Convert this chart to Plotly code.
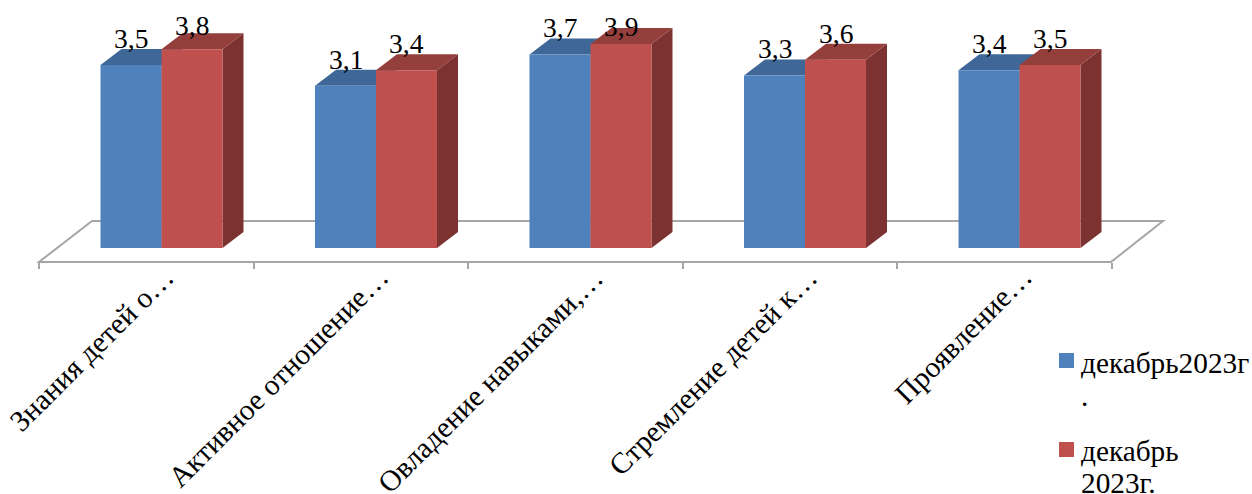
import plotly.graph_objects as go

categories = ["Знания детей о…", "Активное отношение…", "Овладение навыками,…", "Стремление детей к…", "Проявление…"]
series_a_lines = ["декабрь2023г", "."]
series_b_lines = ["декабрь", "2023г."]
series_a = [3.5, 3.1, 3.7, 3.3, 3.4]
series_b = [3.8, 3.4, 3.9, 3.6, 3.5]

W, H = 1252, 494
PX_X = 214.5      # px per category
PX_Y = 52.3       # px per value unit
X0_PX, Y0_PX = 161.5, 248
FONT = "Liberation Serif"
FS_CAT = 29.5
FS_VAL = 27.5
FS_LEG = 29.3
VAL_TOP_LIMIT = 3.75   # taller bars have their value labels pulled down towards the bar
BAR_W = 61 / PX_X
DX, DY = 21 / PX_X, 16 / PX_Y
BLUE, RED = "#4F81BD", "#C0504D"
BLUE_TOP, RED_TOP = "#3F6797", "#953F3C"
BLUE_SIDE, RED_SIDE = "#385D8A", "#7C3230"
GRID = "#A6A6A6"


def px_x(p):
    return (p - X0_PX) / PX_X


def px_y(p):
    return (Y0_PX - p) / PX_Y


def path(points):
    return "M " + " L ".join(f"{x:.5f},{y:.5f}" for x, y in points) + " Z"


fig = go.Figure()
for name, vals, col in [(" ".join(series_a_lines), series_a, BLUE), (" ".join(series_b_lines), series_b, RED)]:
    fig.add_trace(go.Bar(x=list(range(len(categories))), y=vals, name=name, marker=dict(color=col, line=dict(width=0)),
                         hoverinfo="skip", showlegend=False))

shapes = [dict(type="path", xref="x", yref="y", layer="below", fillcolor="white",
               line=dict(color=GRID, width=2),
               path=path([(px_x(39), px_y(262)), (px_x(1111), px_y(262)), (px_x(1163), px_y(221)), (px_x(92), px_y(221))]))]
annotations = []
for i in range(len(categories)):
    for vals, off, top, side in [(series_a, -1, BLUE_TOP, BLUE_SIDE), (series_b, 0, RED_TOP, RED_SIDE)]:
        v = vals[i]
        l = i + off * BAR_W
        r = l + BAR_W
        shapes.append(dict(type="path", xref="x", yref="y", layer="below", fillcolor=side, line=dict(width=0),
                           path=path([(r, 0), (r + DX, DY), (r + DX, v + DY), (r, v)])))
        shapes.append(dict(type="path", xref="x", yref="y", layer="below", fillcolor=top, line=dict(width=0),
                           path=path([(l, v), (l + DX, v + DY), (r + DX, v + DY), (r, v)])))
        ysh = 9 - max(0, v - VAL_TOP_LIMIT) * 60
        annotations.append(dict(x=(l + r) / 2, y=v, xref="x", yref="y", text=f"{v:.1f}".replace(".", ","),
                                showarrow=False, yanchor="bottom", xanchor="center", yshift=ysh,
                                font=dict(family=FONT, size=FS_VAL, color="black")))
    annotations.append(dict(x=i + px_x(146.5 + 36.5) - px_x(161.5), y=(H - 258) / H, xref="x", yref="paper",
                            text=categories[i], showarrow=False, textangle=-45, xanchor="right", yanchor="top",
                            font=dict(family=FONT, size=FS_CAT, color="black")))

# legend: swatch plus one text row per line
for lines, col, swatch_top, baselines in [(series_a_lines, BLUE, 353, (372, 405)), (series_b_lines, RED, 442, (460, 492))]:
    shapes.append(dict(type="rect", xref="paper", yref="paper", x0=1059 / W, x1=1074 / W,
                       y0=(H - swatch_top - 15) / H, y1=(H - swatch_top) / H, fillcolor=col, line=dict(width=0)))
    for text, base in zip(lines, baselines):
        annotations.append(dict(x=1081 / W, y=(H - base) / H, xref="paper", yref="paper", text=text, showarrow=False,
                                xanchor="left", yanchor="bottom", yshift=-9, xshift=-2,
                                font=dict(family=FONT, size=FS_LEG, color="black")))

fig.update_layout(
    width=W, height=H, autosize=False,
    margin=dict(l=0, r=0, t=0, b=0),
    paper_bgcolor="white", plot_bgcolor="white",
    barmode="group", bargap=1 - 2 * BAR_W, bargroupgap=0,
    font=dict(family=FONT, size=FS_CAT, color="black"),
    shapes=shapes, annotations=annotations, showlegend=False,
    xaxis=dict(range=[px_x(0), px_x(W)], showgrid=False, zeroline=False, showline=False,
               tickmode="array", tickvals=[px_x(39) + k for k in range(len(categories) + 1)],
               ticktext=[""] * (len(categories) + 1), ticks="outside", ticklen=6, tickwidth=2, tickcolor=GRID,
               anchor="free", position=(H - 262) / H),
    yaxis=dict(range=[px_y(H), px_y(0)], visible=False),
)
fig.write_html("out.html", config=dict(displayModeBar=False),
               post_script="document.body.style.margin='0';document.documentElement.style.overflow='hidden';")
